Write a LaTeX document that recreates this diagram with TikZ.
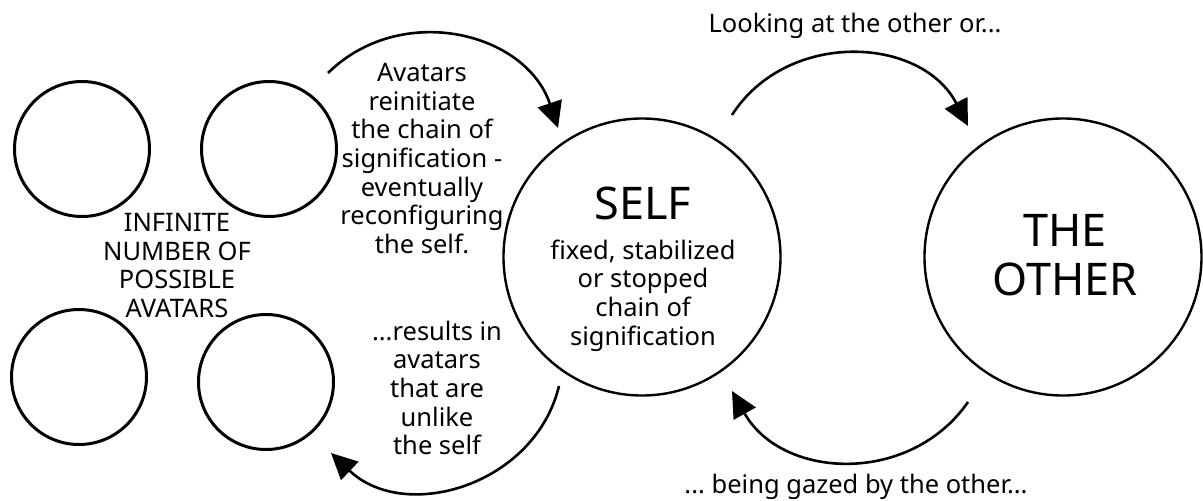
\documentclass[tikz,border=0pt]{standalone}
\usepackage{fontspec}
\setmainfont{Noto Sans}[Ligatures=CommonOff]
\frenchspacing
\usetikzlibrary{positioning,arrows.meta}

\begin{document}
\begin{tikzpicture}[x=1pt,y=1pt,
	avatarnode/.style={circle,draw,line width=3pt,minimum size=135pt,inner sep=0pt},
	bignode/.style={circle,draw,line width=2.4pt,minimum size=277pt,inner sep=0pt},
	txt/.style={font=\fontsize{25.5}{28.7}\selectfont,align=center,inner sep=0pt},
	bigtxt/.style={font=\fontsize{45}{49}\selectfont,align=center,inner sep=0pt},
	gaze/.style={-{Triangle[length=26pt,width=25pt]},line width=2.6pt,looseness=1.1}]
		\useasboundingbox (0,0) rectangle (1203,-501);

		\node[avatarnode]									(a1)	at (82,-149)	{};
		\node[avatarnode,node distance=49pt,right=of a1]	(a2)					{};
		\node[avatarnode]									(a3)	at (79,-377)	{};
		\node[avatarnode]									(a4)	at (266,-382)	{};
		\node[txt]	(inf)	at (177,-265.5)	{INFINITE\\NUMBER OF\\POSSIBLE\\AVATARS};

		\node[bignode]	(self)	at (642,-257)	{};
		\node[bignode]	(other)	at (1063,-257)	{};
		\node[bigtxt,anchor=base]	(selftitle)	at (643,-219)	{SELF};
		\node[txt]	(selftxt)	at (643,-295.5)	{fixed, stabilized\\or stopped\\chain of\\signification};
		\node[bigtxt]	(othertxt)	at (1065,-255.5)	{THE\\OTHER};

		\node[txt]	(reinit)	at (422,-158.5)	{Avatars\\reinitiate\\the chain of\\signification -\\eventually\\reconfiguring\\the self.};
		\node[txt]	(unlike)	at (437,-388)	{...results in\\avatars\\that are\\unlike\\the self};
		\node[txt,anchor=base]	(look)	at (855,-32)	{Looking at the other or...};
		\node[txt,anchor=base]	(gazed)	at (856,-493)	{... being gazed by the other...};

		\coordinate (p1) at (328,-73);
		\coordinate (p2) at (558,-128);
		\coordinate (p3) at (559,-386);
		\coordinate (p4) at (331,-453);
		\coordinate (p5) at (732,-115);
		\coordinate (p6) at (968,-126);
		\coordinate (p7) at (968,-402);
		\coordinate (p8) at (732,-391);

		\draw[gaze] (p1) to[bend left=58] (p2);
		\draw[gaze] (p3) to[bend left=60] (p4);
		\draw[gaze] (p5) to[bend left=60] (p6);
		\draw[gaze] (p7) to[bend left=58] (p8);
	\end{tikzpicture}
\end{document}
